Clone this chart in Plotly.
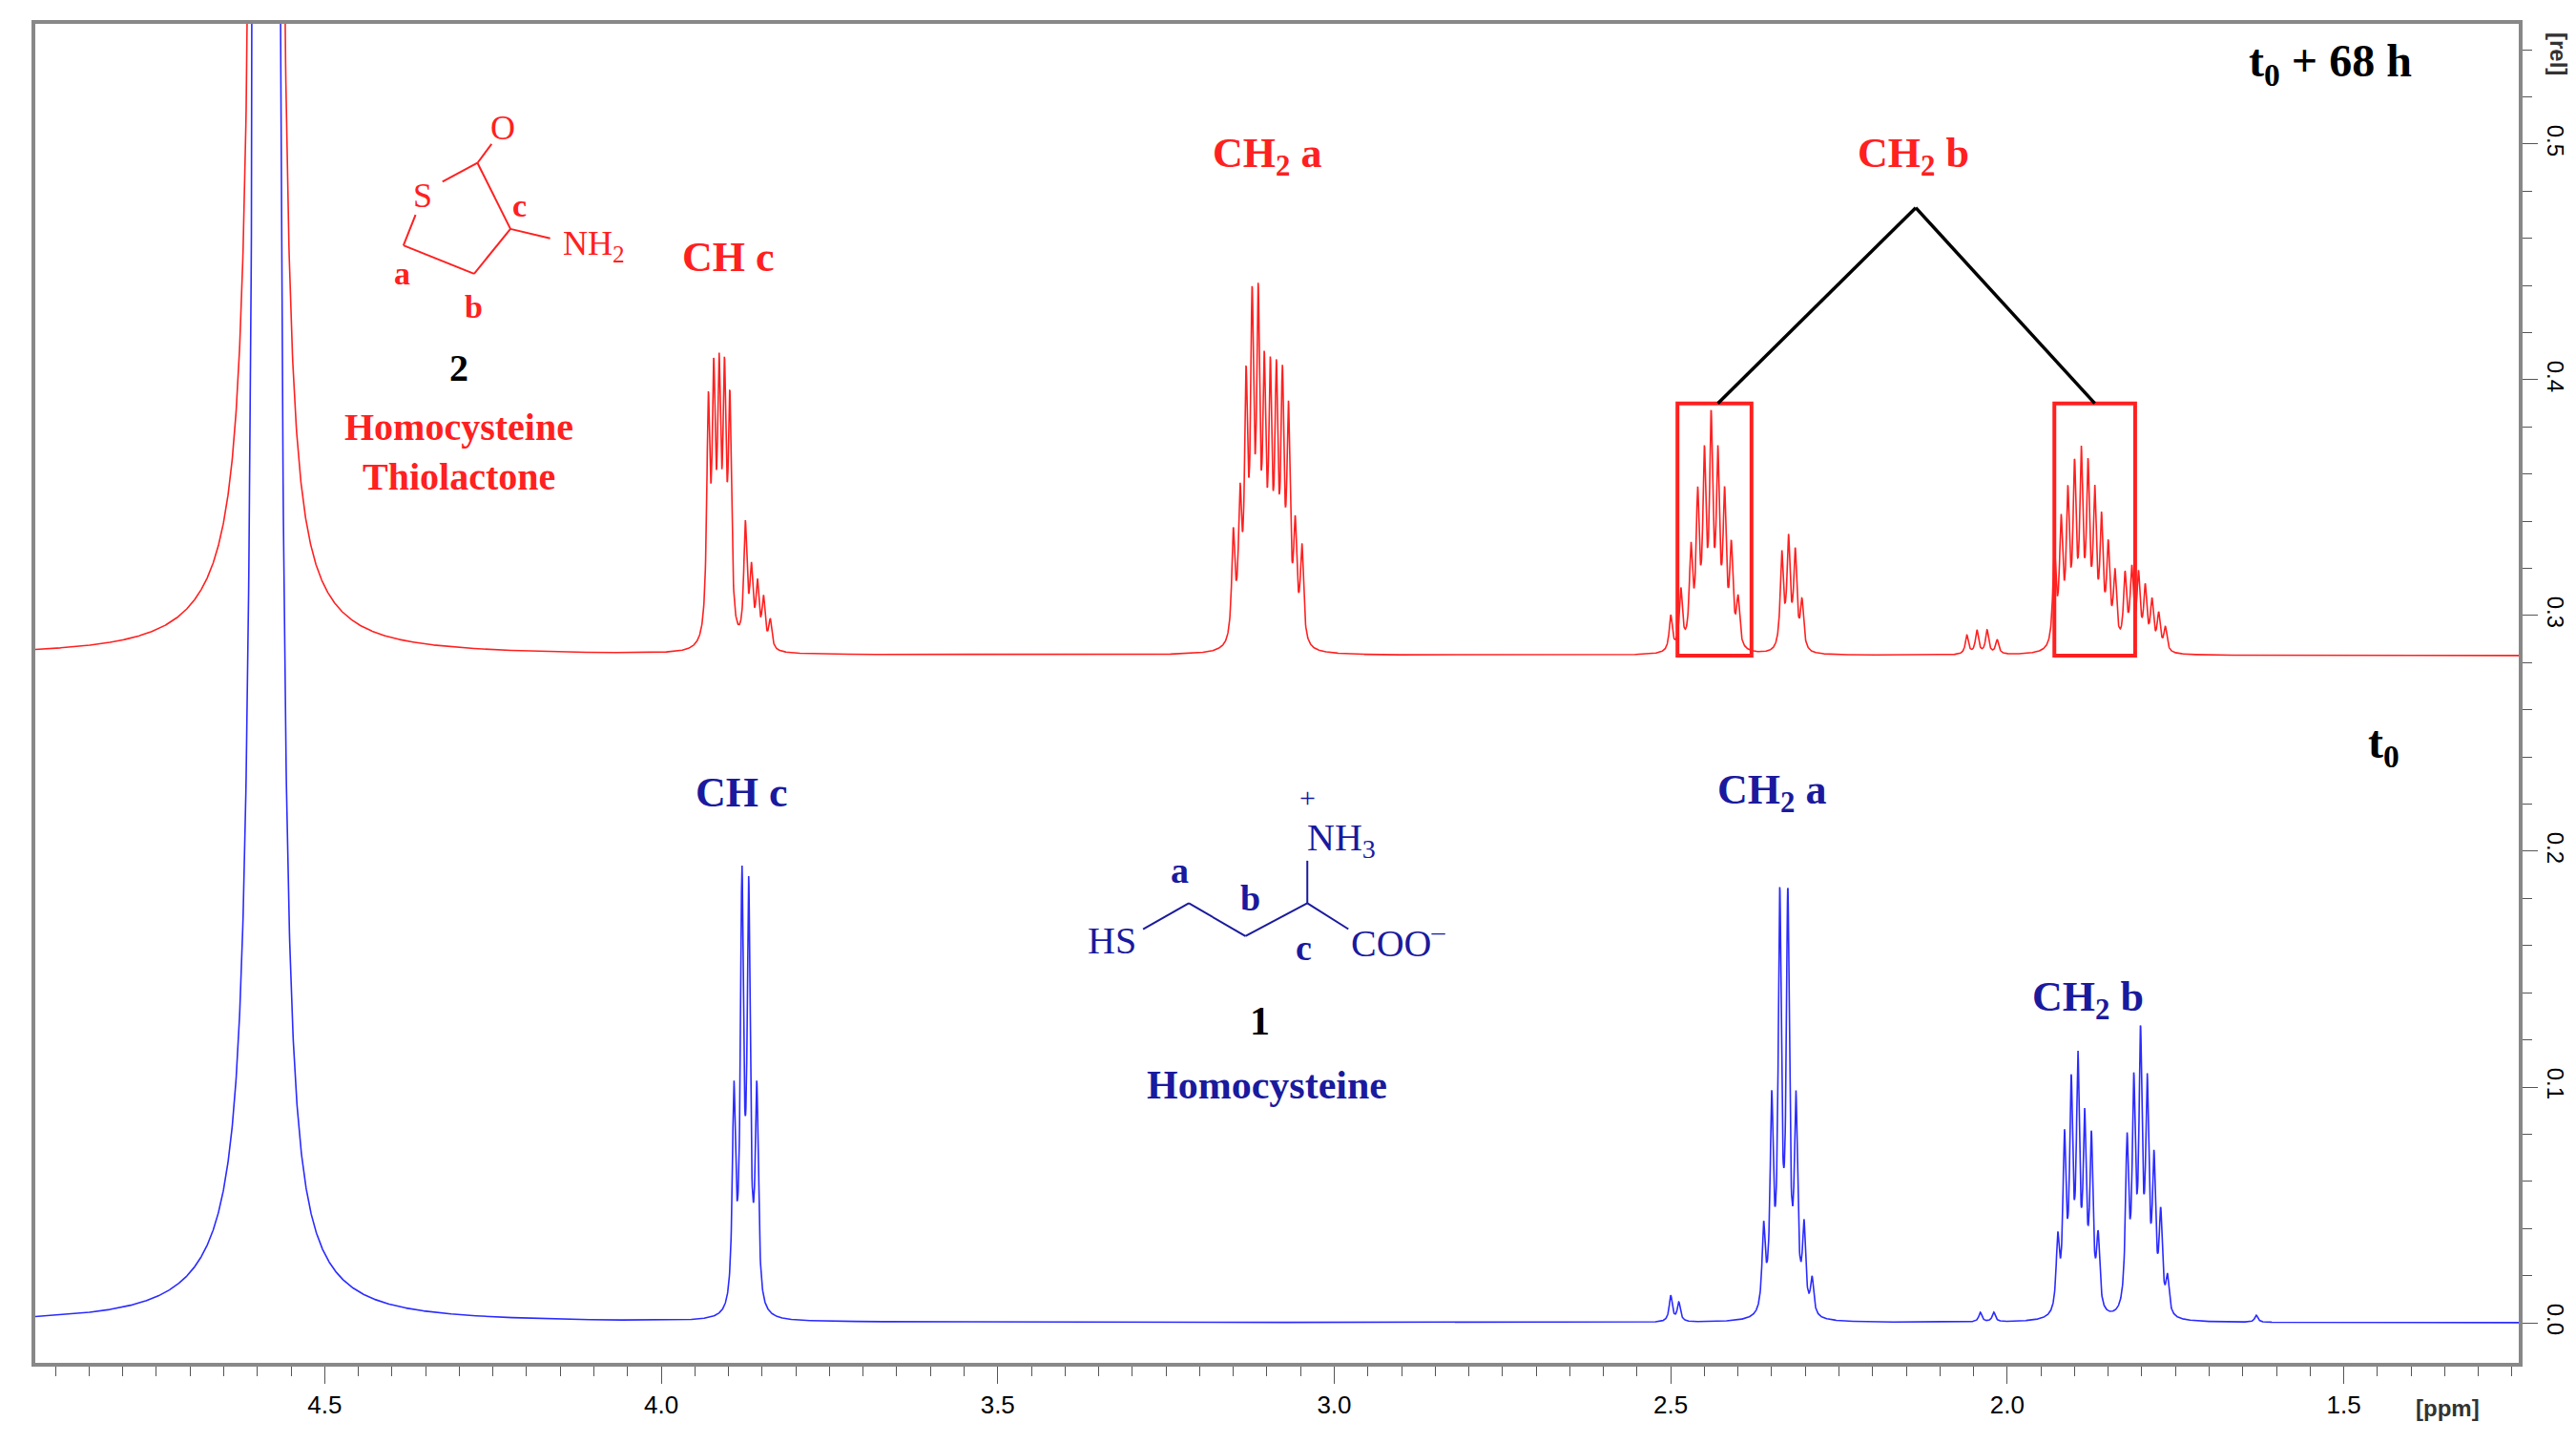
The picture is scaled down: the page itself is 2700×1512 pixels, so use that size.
import numpy as np
import plotly.graph_objects as go

# peak lists: position (ppm), height (rel, above baseline), width (ppm)
red_offset = 0.283
red_pos = [4.60, 4.595, 4.575, 3.930, 3.922, 3.914, 3.906, 3.898, 3.875, 3.866, 3.857, 3.848, 3.838,
           3.150, 3.140, 3.131, 3.122, 3.113, 3.104, 3.095, 3.086, 3.077, 3.068, 3.058, 3.048,
           2.500, 2.485, 2.470, 2.460, 2.450, 2.440, 2.430, 2.420, 2.410, 2.400,
           2.335, 2.325, 2.315, 2.305, 2.060, 2.045, 2.030, 2.015,
           1.930, 1.920, 1.910, 1.900, 1.890, 1.880, 1.870, 1.860, 1.850, 1.840,
           1.825, 1.815, 1.805, 1.795, 1.785, 1.775, 1.765]
red_h = [0.025, 2.5, 1.5, 0.095, 0.10, 0.10, 0.10, 0.095, 0.05, 0.03, 0.025, 0.02, 0.012,
         0.045, 0.055, 0.10, 0.13, 0.13, 0.10, 0.10, 0.10, 0.10, 0.09, 0.045, 0.04,
         0.015, 0.025, 0.04, 0.06, 0.075, 0.09, 0.075, 0.06, 0.04, 0.02,
         0.04, 0.045, 0.04, 0.02, 0.008, 0.01, 0.01, 0.006,
         0.04, 0.05, 0.06, 0.07, 0.075, 0.07, 0.06, 0.05, 0.04, 0.03,
         0.03, 0.032, 0.03, 0.025, 0.02, 0.015, 0.01]
blue_pos = [4.60, 4.595, 4.575, 3.892, 3.880, 3.870, 3.858,
            2.500, 2.488, 2.362, 2.350, 2.338, 2.326, 2.314, 2.302, 2.290,
            2.040, 2.020, 1.925, 1.915, 1.905, 1.895, 1.885, 1.875, 1.865,
            1.822, 1.812, 1.802, 1.792, 1.782, 1.772, 1.762, 1.630]
blue_h = [0.025, 2.5, 1.5, 0.09, 0.175, 0.17, 0.09,
          0.011, 0.008, 0.035, 0.085, 0.17, 0.17, 0.085, 0.035, 0.015,
          0.004, 0.004, 0.03, 0.07, 0.09, 0.1, 0.075, 0.07, 0.03,
          0.07, 0.09, 0.11, 0.09, 0.06, 0.04, 0.015, 0.003]
solvent_w = [0.08, 0.006, 0.006]
x_ticks = [4.5, 4.0, 3.5, 3.0, 2.5, 2.0, 1.5]
y_ticks = [0.0, 0.1, 0.2, 0.3, 0.4, 0.5]

ppm = np.linspace(4.93, 1.24, 9000)


def spectrum(pos, h, w=0.0028):
    y = np.zeros_like(ppm)
    for i, (p, a) in enumerate(zip(pos, h)):
        ww = solvent_w[i] if i < len(solvent_w) else w
        y += a * ww**2 / ((ppm - p)**2 + ww**2)
    return y


red_y = red_offset + spectrum(red_pos, red_h)
blue_y = spectrum(blue_pos, blue_h)

RED = "#ff2020"
BLUE = "#2b2bff"
NAVY = "#1a1a9e"
SERIF = "Liberation Serif"

fig = go.Figure()
fig.add_trace(go.Scatter(x=ppm, y=blue_y, mode="lines", line=dict(color=BLUE, width=1.6)))
fig.add_trace(go.Scatter(x=ppm, y=red_y, mode="lines", line=dict(color=RED, width=1.6)))


def txt(x, y, s, color, size=44, bold=True):
    t = f"<b>{s}</b>" if bold else s
    fig.add_annotation(x=x, y=y, text=t, showarrow=False,
                       font=dict(family=SERIF, size=size, color=color))


def seg(x0, y0, x1, y1, color, w=2):
    fig.add_shape(type="line", x0=x0, y0=y0, x1=x1, y1=y1, line=dict(color=color, width=w))


# red labels
txt(3.90, 0.452, "CH c", RED)
txt(3.10, 0.495, "CH<sub>2</sub> a", RED)
txt(2.14, 0.495, "CH<sub>2</sub> b", RED)
txt(1.52, 0.534, "t<sub>0</sub> + 68 h", "black", 48)
txt(1.44, 0.245, "t<sub>0</sub>", "black", 48)

# boxes and connector
for x0, x1 in [(2.49, 2.38), (1.93, 1.81)]:
    fig.add_shape(type="rect", x0=x0, x1=x1, y0=0.283, y1=0.39, line=dict(color=RED, width=4))
seg(2.136, 0.473, 2.43, 0.39, "black", 3.5)
seg(2.136, 0.473, 1.87, 0.39, "black", 3.5)

# thiolactone structure
seg(4.325, 0.484, 4.273, 0.492, RED)
seg(4.273, 0.492, 4.224, 0.464, RED)
seg(4.224, 0.464, 4.278, 0.445, RED)
seg(4.278, 0.445, 4.383, 0.457, RED)
seg(4.383, 0.457, 4.365, 0.470, RED)
seg(4.273, 0.492, 4.252, 0.500, RED)
seg(4.224, 0.464, 4.165, 0.460, RED)
txt(4.355, 0.478, "S", RED, 36, False)
txt(4.236, 0.507, "O", RED, 36, False)
txt(4.10, 0.457, "NH<sub>2</sub>", RED, 36, False)
txt(4.210, 0.474, "c", RED, 34)
txt(4.385, 0.445, "a", RED, 34)
txt(4.278, 0.431, "b", RED, 34)
txt(4.30, 0.405, "2", "black", 40)
txt(4.30, 0.380, "Homocysteine", RED, 40)
txt(4.30, 0.359, "Thiolactone", RED, 40)

# blue labels
txt(3.88, 0.225, "CH c", NAVY)
txt(2.35, 0.225, "CH<sub>2</sub> a", NAVY)
txt(1.88, 0.137, "CH<sub>2</sub> b", NAVY)

# homocysteine structure
chain = [(3.284, 0.167), (3.216, 0.178), (3.132, 0.164), (3.04, 0.178), (2.979, 0.167)]
for (a, b), (c, d) in zip(chain[:-1], chain[1:]):
    seg(a, b, c, d, NAVY)
seg(3.04, 0.178, 3.04, 0.196, NAVY)
txt(3.33, 0.162, "HS", NAVY, 40, False)
txt(2.905, 0.162, "COO<sup>&#8211;</sup>", NAVY, 40, False)
txt(2.99, 0.205, "NH<sub>3</sub>", NAVY, 40, False)
txt(3.04, 0.223, "+", NAVY, 30, False)
txt(3.23, 0.192, "a", NAVY, 38)
txt(3.125, 0.180, "b", NAVY, 38)
txt(3.045, 0.159, "c", NAVY, 38)
txt(3.11, 0.128, "1", "black", 42)
txt(3.10, 0.101, "Homocysteine", NAVY, 42)

# unit labels
fig.add_annotation(xref="paper", yref="paper", x=1.01, y=0.995, text="<b>[rel]</b>", textangle=90,
                   showarrow=False, xanchor="left", font=dict(family="Liberation Sans", size=24, color="#333"))
fig.add_annotation(xref="paper", yref="paper", x=0.985, y=-0.045, text="<b>[ppm]</b>",
                   showarrow=False, font=dict(family="Liberation Sans", size=24, color="#333"))

fig.update_layout(
    width=2700, height=1512, showlegend=False,
    paper_bgcolor="white", plot_bgcolor="white",
    margin=dict(l=29, r=68, t=17, b=92),
    xaxis=dict(range=[4.93, 1.24], tickvals=x_ticks, ticktext=[f"{v:.1f}" for v in x_ticks],
               showgrid=False, zeroline=False, showline=True, linecolor="#888", linewidth=4,
               mirror=True, ticks="outside", ticklen=18, tickcolor="#555",
               minor=dict(dtick=0.05, ticks="outside", ticklen=10, tickcolor="#555"),
               tickfont=dict(family="Liberation Sans", size=26, color="black")),
    yaxis=dict(range=[-0.017, 0.551], side="right", tickvals=y_ticks,
               ticktext=[f"{v:.1f}" for v in y_ticks], tickangle=90,
               showgrid=False, zeroline=False, showline=True, linecolor="#888", linewidth=4,
               mirror=True, ticks="outside", ticklen=16, tickcolor="#555",
               minor=dict(dtick=0.02, ticks="outside", ticklen=10, tickcolor="#555"),
               tickfont=dict(family="Liberation Sans", size=24, color="black")),
)

fig.write_html("out.html")
